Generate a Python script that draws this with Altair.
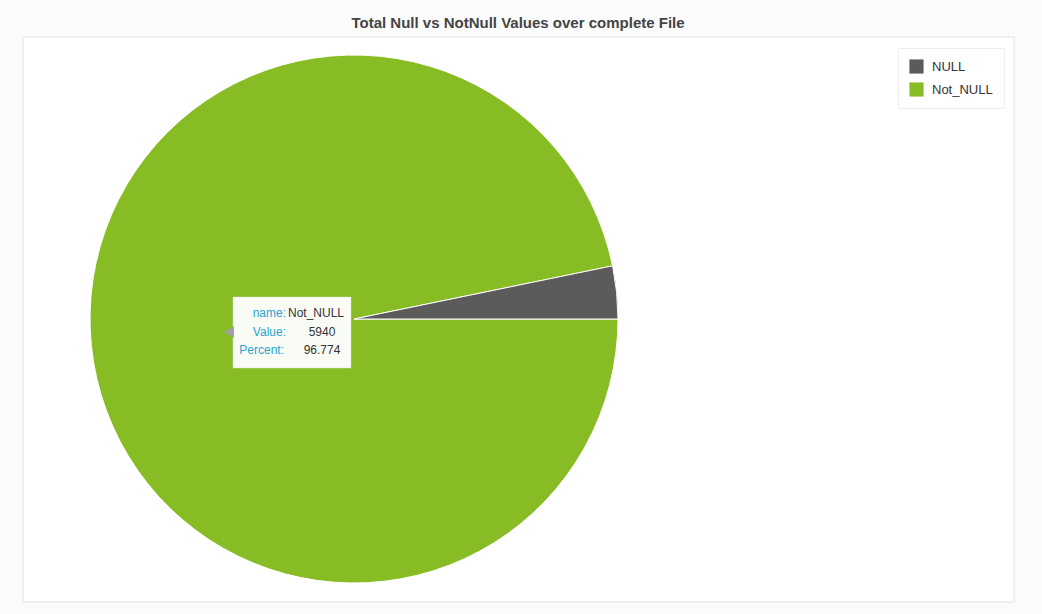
import altair as alt
import pandas as pd
import math

names = ["Not_NULL", "NULL"]
values = [5940, 198]
percents = [96.774, 3.226]
legend_order = ["NULL", "Not_NULL"]
colors = ["#5b5b5b", "#87bc24"]
title_text = "Total Null vs NotNull Values over complete File"

df = pd.DataFrame({"name": names, "Value": values, "Percent": percents, "ord": [0, 1]})

W, H = 1042, 614

bg = alt.Chart(pd.DataFrame({"a": [0]})).mark_rect(fill="white", stroke="#e2e2e2", strokeWidth=1).encode(
    x=alt.value(23), x2=alt.value(1014), y=alt.value(37), y2=alt.value(602))

pie = alt.Chart(df).mark_arc(radius=264, stroke="white", strokeWidth=1).encode(
    theta=alt.Theta("Value:Q", stack=True, scale=alt.Scale(range=[math.pi / 2, math.pi / 2 + 2 * math.pi])),
    order=alt.Order("ord:Q"),
    color=alt.Color("name:N", scale=alt.Scale(domain=legend_order, range=colors),
                    legend=alt.Legend(title=None, orient="none", legendX=898, legendY=48,
                                      symbolType="square", symbolSize=200, symbolStrokeWidth=0,
                                      labelFontSize=13, labelColor="#333", labelFont="Helvetica, Arial, Liberation Sans",
                                      padding=11, rowPadding=8, labelOffset=8,
                                      fillColor="white", strokeColor="#eeeeee", labelLimit=200)),
    x=alt.value(354), y=alt.value(319),
)

title = alt.Chart(pd.DataFrame({"t": [title_text]})).mark_text(
    fontSize=15, fontWeight="bold", color="#444", font="Liberation Sans, Arial").encode(
    text="t:N", x=alt.value(518), y=alt.value(23))

tip = df[df["name"] == "Not_NULL"].iloc[0]
box = alt.Chart(pd.DataFrame({"a": [0]})).mark_rect(fill="#f9fcf4", stroke="#dddddd", strokeWidth=0.5).encode(
    x=alt.value(233), x2=alt.value(351), y=alt.value(297), y2=alt.value(368))
arrow = alt.Chart(pd.DataFrame({"a": [0]})).mark_point(shape="triangle-left", filled=True, color="#a0a0a0", size=130, opacity=1).encode(
    x=alt.value(229), y=alt.value(332))

lab_df = pd.DataFrame({"lab": ["name:", "Value:", "Percent:"], "row": [0, 1, 2],
                       "xr": [286, 286, 284]})
val_df = pd.DataFrame({"v": [tip["name"], str(int(tip["Value"])), f'{tip["Percent"]:.3f}'], "row": [0, 1, 2]})

yscale = alt.Scale(domain=[0, 2], range=[313, 350])

labels = alt.Chart(lab_df).mark_text(align="right", fontSize=12, color="#2aa3cf", font="Liberation Sans, Arial").encode(
    text="lab:N", x=alt.X("xr:Q", scale=None),
    y=alt.Y("row:Q", scale=yscale, axis=None))
vals1 = alt.Chart(val_df.iloc[[0]]).mark_text(align="left", fontSize=12, color="#333", font="Liberation Sans, Arial").encode(
    text="v:N", x=alt.value(288), y=alt.Y("row:Q", scale=yscale, axis=None))
vals2 = alt.Chart(val_df.iloc[[1, 2]]).mark_text(align="center", fontSize=12, color="#333", font="Liberation Sans, Arial").encode(
    text="v:N", x=alt.value(322),
    y=alt.Y("row:Q", scale=yscale, axis=None))

chart = alt.layer(bg, pie, title, box, arrow, labels, vals1, vals2).properties(
    width=W, height=H, padding=0, autosize="none", background="#fbfbfb"
).configure_view(stroke=None)

chart.save("out.html", embed_options={"renderer": "svg", "actions": False})
